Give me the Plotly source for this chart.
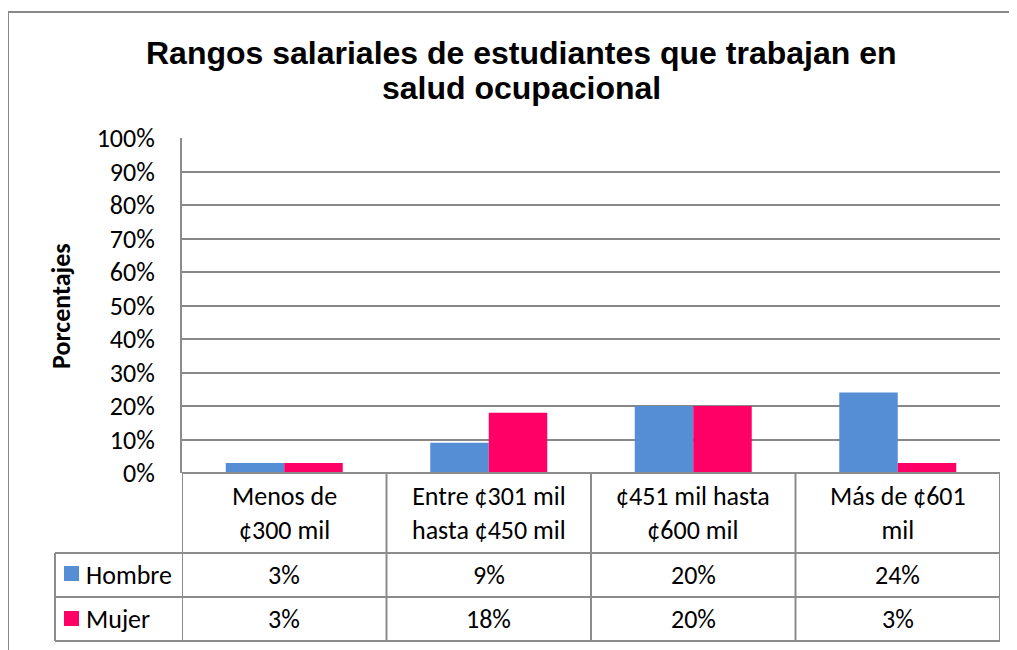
import plotly.graph_objects as go

categories = ["Menos de ¢300 mil", "Entre ¢301 mil hasta ¢450 mil", "¢451 mil hasta ¢600 mil", "Más de ¢601 mil"]
header_labels = ["Menos de<br>¢300 mil", "Entre ¢301 mil<br>hasta ¢450 mil", "¢451 mil hasta<br>¢600 mil", "Más de ¢601<br>mil"]
series_names = ["Hombre", "Mujer"]
hombre = [3, 9, 20, 24]
mujer = [3, 18, 20, 3]
series_values = [hombre, mujer]
series_colors = ["#558ED5", "#FF0066"]
y_ticks = [0, 10, 20, 30, 40, 50, 60, 70, 80, 90, 100]
y_tick_labels = [f"{t}%" for t in y_ticks]

W, H = 1017, 650
OFF = 8  # page body margin
# plot area in page pixels
PL, PR, PT, PB = 182, 1000, 138, 473
L, R, T, B = PL - OFF, PR - OFF, PT - OFF, PB - OFF


def px2x(px):
    return (px - PL) / (PR - PL)


def px2y(py):
    return (PB - py) / (PB - PT)


FONT = "Carlito, Calibri, Lato, sans-serif"
FS = 26
GRID = "#878787"
LINE = "#8c8c8c"

fig = go.Figure()
for name, vals, col in zip(series_names, series_values, series_colors):
    fig.add_trace(go.Bar(x=categories, y=vals, name=name, marker=dict(color=col, line=dict(width=0))))

fig.update_layout(
    width=W, height=H,
    margin=dict(l=L, r=W - R, t=T, b=H - B, pad=0),
    paper_bgcolor="white", plot_bgcolor="white",
    barmode="group", bargap=0.428, bargroupgap=0,
    showlegend=False,
    font=dict(family=FONT, size=FS, color="black"),
)
fig.update_xaxes(range=[-0.5, 3.5], showticklabels=False, showgrid=False, zeroline=False,
                 showline=False, ticks="")
fig.update_yaxes(range=[0, 100], tickvals=y_ticks, ticktext=y_tick_labels, showgrid=True,
                 gridcolor=GRID, gridwidth=1.5, zeroline=False, showline=True, linecolor=LINE,
                 linewidth=2, ticks="", ticklabelstandoff=20, tickfont=dict(size=FS, family=FONT))

shapes = []
# outer chart frame (top and left)
shapes.append(dict(type="line", xref="paper", yref="paper", x0=px2x(8), x1=px2x(1040), y0=px2y(12), y1=px2y(12),
                   line=dict(color="#898989", width=2)))
shapes.append(dict(type="line", xref="paper", yref="paper", x0=px2x(8), x1=px2x(8), y0=px2y(12), y1=px2y(680),
                   line=dict(color="#898989", width=2)))

row_y = [473, 553, 597, 641]
# horizontal table lines
shapes.append(dict(type="line", xref="x", yref="paper", x0=-0.5, x1=3.5, y0=0, y1=0, line=dict(color=LINE, width=2)))
for py in row_y[1:]:
    shapes.append(dict(type="line", xref="paper", yref="paper", x0=px2x(55), x1=1, y0=px2y(py), y1=px2y(py),
                       line=dict(color=LINE, width=2)))
# vertical table lines at category boundaries
for i in range(len(categories) + 1):
    shapes.append(dict(type="line", xref="x", yref="paper", x0=i - 0.5, x1=i - 0.5, y0=0, y1=px2y(641),
                       line=dict(color=LINE, width=2)))
# left column border
shapes.append(dict(type="line", xref="paper", yref="paper", x0=px2x(55), x1=px2x(55), y0=px2y(553), y1=px2y(641),
                   line=dict(color=LINE, width=2)))
# legend keys
key_tops = [566, 611]
for col, kt in zip(series_colors, key_tops):
    shapes.append(dict(type="rect", xref="paper", yref="paper", x0=px2x(64), x1=px2x(79), y0=px2y(kt), y1=px2y(kt + 15),
                       fillcolor=col, line=dict(width=0)))

annotations = []
title_lines = ["Rangos salariales de estudiantes que trabajan en", "salud ocupacional"]
for line_text, cy in zip(title_lines, [53, 88]):
    annotations.append(dict(text=f"<b>{line_text}</b>", xref="paper", yref="paper", x=px2x(521), y=px2y(cy),
                            xanchor="center", yanchor="middle", showarrow=False,
                            font=dict(family="Liberation Sans, Arial, sans-serif", size=32, color="black")))
annotations.append(dict(text="<b>Porcentajes</b>", xref="paper", yref="paper", x=px2x(61), y=px2y(306),
                        xanchor="center", yanchor="middle", textangle=-90, showarrow=False,
                        font=dict(family=FONT, size=FS, color="black")))
for cat, lab in zip(categories, header_labels):
    annotations.append(dict(text=lab, xref="x", yref="paper", x=cat, y=px2y(513), xanchor="center", yanchor="middle",
                            showarrow=False, font=dict(family=FONT, size=FS, color="black")))
row_centers = [575, 619]
for name, vals, cy in zip(series_names, series_values, row_centers):
    annotations.append(dict(text=name, xref="paper", yref="paper", x=px2x(84), y=px2y(cy), xanchor="left",
                            yanchor="middle", showarrow=False, font=dict(family=FONT, size=FS, color="black")))
    for cat, v in zip(categories, vals):
        annotations.append(dict(text=f"{v}%", xref="x", yref="paper", x=cat, y=px2y(cy), xanchor="center",
                                yanchor="middle", showarrow=False, font=dict(family=FONT, size=FS, color="black")))

fig.update_layout(shapes=shapes, annotations=annotations)
fig.write_html("out.html")
